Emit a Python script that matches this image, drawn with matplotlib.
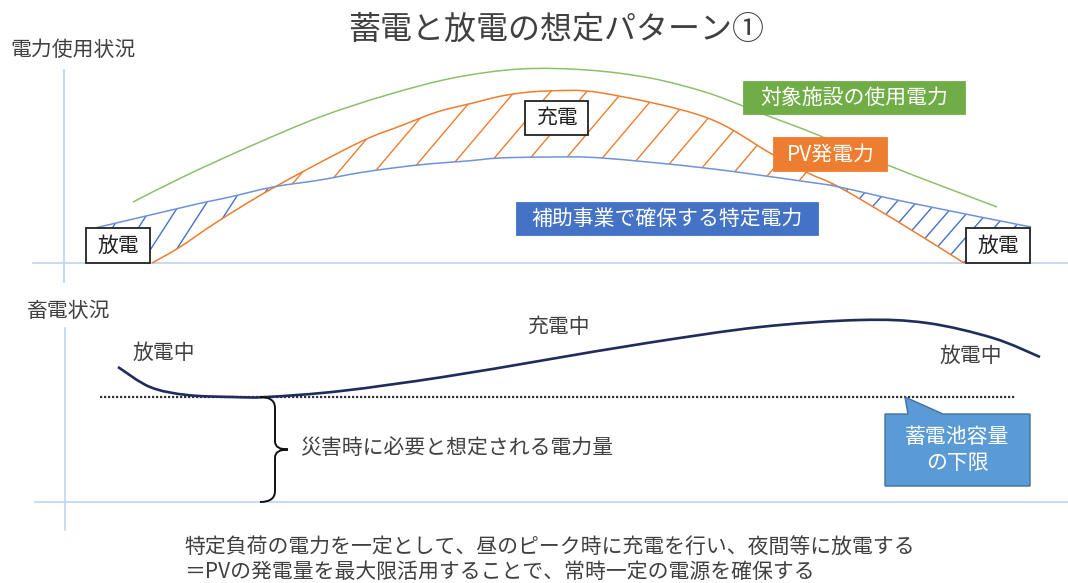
import numpy as np
import matplotlib
matplotlib.use('Agg')
import matplotlib.pyplot as plt
from matplotlib.path import Path
from matplotlib.patches import PathPatch, Polygon, Rectangle

plt.rcParams['font.family'] = ['Noto Sans CJK JP', 'DejaVu Sans']

# --- data (canvas units: x right, y down) ---
usage_x = [133, 187, 253, 320, 387, 453, 520, 587, 650, 705, 743, 763, 818, 890, 997]
usage_y = [202, 175, 145, 117, 95, 78, 69, 70, 78, 92, 106, 114, 135, 166, 207]

pv_x = [152, 180, 217, 273, 358, 403, 437, 473, 507, 547, 602, 705, 770, 808, 839, 900, 964]
pv_y = [263, 247, 222, 188, 143, 125, 112, 103, 95, 91, 93, 117, 153, 173, 187, 223, 263]

supply_x = [95, 180, 206, 230, 273, 320, 358, 393, 428, 467, 500, 553, 602, 705, 808, 839, 911, 1031]
supply_y = [228, 208, 202, 197, 187, 180, 173, 168, 164, 161, 158, 157, 158, 168, 182, 187, 203, 227]

cross_x = [273, 839]          # where PV and supply lines meet

storage_x = [118, 150, 187, 233, 267, 341, 443, 545, 647, 760, 860, 927, 993, 1040]
storage_y = [367, 387, 395, 397, 397, 391, 377, 360, 343, 327, 320, 323, 338, 357]

top_base = 263
bottom_base = 502
reserve_level = 397

TXT = '#404040'
AXC = '#BFD4EE'


def smooth(xs, ys):
    pts = np.column_stack([xs, ys]).astype(float)
    verts = [pts[0]]
    codes = [Path.MOVETO]
    n = len(pts)
    for i in range(n - 1):
        p0 = pts[i - 1] if i > 0 else pts[i]
        p1, p2 = pts[i], pts[i + 1]
        p3 = pts[i + 2] if i + 2 < n else pts[i + 1]
        verts += [p1 + (p2 - p0) / 6, p2 - (p3 - p1) / 6, p2]
        codes += [Path.CURVE4] * 3
    return Path(verts, codes)


def hatch(ax, poly, color, slope, step, lw=1.0):
    patch = Polygon(poly, closed=True, transform=ax.transData,
                    facecolor='none', edgecolor='none')
    ax.add_patch(patch)
    x0, x1 = poly[:, 0].min() - 5, poly[:, 0].max() + 5
    y0, y1 = poly[:, 1].min() - 5, poly[:, 1].max() + 5
    for b in np.arange(y0 + slope * x0, y1 + slope * x1, step * slope):
        ln, = ax.plot([x0, x1], [b - slope * x0, b - slope * x1],
                      color=color, lw=lw, zorder=2)
        ln.set_clip_path(patch)


fig = plt.figure(figsize=(10.68, 5.83), dpi=100)
ax = fig.add_axes([0, 0, 1, 1])
ax.set_xlim(0, 1068)
ax.set_ylim(583, 0)
ax.axis('off')

# axes lines
ax.plot([64, 64], [70, 282], color=AXC, lw=1.2, zorder=1)
ax.plot([33, 1068], [top_base, top_base], color=AXC, lw=1.2, zorder=1)
ax.plot([65, 65], [328, 530], color=AXC, lw=1.2, zorder=1)
ax.plot([35, 1068], [bottom_base, bottom_base], color=AXC, lw=1.2, zorder=1)

# top curves
usage_path = smooth(usage_x, usage_y)
pv_path = smooth(pv_x, pv_y)
sup_path = smooth(supply_x, supply_y)
ax.add_patch(PathPatch(usage_path, fc='none', ec='#8DC06A', lw=1.1, zorder=3))
ax.add_patch(PathPatch(pv_path, fc='none', ec='#ED7D31', lw=1.1, zorder=3))
ax.add_patch(PathPatch(sup_path, fc='none', ec='#6F93D6', lw=1.1, zorder=3))

pv_pts = pv_path.to_polygons(closed_only=False)[0]
sup_pts = sup_path.to_polygons(closed_only=False)[0]

# charging region (PV above supply)
m_pv = (pv_pts[:, 0] >= cross_x[0]) & (pv_pts[:, 0] <= cross_x[1])
m_sp = (sup_pts[:, 0] >= cross_x[0]) & (sup_pts[:, 0] <= cross_x[1])
charge_poly = np.vstack([pv_pts[m_pv], sup_pts[m_sp][::-1]])
hatch(ax, charge_poly, '#ED7D31', 1.18, 36)

# discharge regions (supply above PV)
m_sp = sup_pts[:, 0] <= cross_x[0]
m_pv = pv_pts[:, 0] <= cross_x[0]
left_poly = np.vstack([sup_pts[m_sp], pv_pts[m_pv][::-1],
                       [[supply_x[0], top_base]]])
hatch(ax, left_poly, '#4472C4', 1.55, 26)

m_sp = sup_pts[:, 0] >= cross_x[1]
m_pv = pv_pts[:, 0] >= cross_x[1]
right_poly = np.vstack([sup_pts[m_sp], [[supply_x[-1], top_base]],
                        pv_pts[m_pv][::-1]])
hatch(ax, right_poly, '#4472C4', 1.15, 20)

# boxes in top panel
def box(x0, y0, x1, y1, text, fc, ec, tc):
    ax.add_patch(Rectangle((x0, y0), x1 - x0, y1 - y0, fc=fc, ec=ec,
                           lw=1.3, zorder=5))
    ax.text((x0 + x1) / 2, (y0 + y1) / 2, text, color=tc, fontsize=15,
            ha='center', va='center', zorder=6)

box(86, 228, 150, 263, '放電', 'white', '#222222', '#222222')
box(966, 228, 1030, 263, '放電', 'white', '#222222', '#222222')
box(525, 101, 588, 135, '充電', 'white', '#222222', '#222222')
box(744, 82, 965, 114, '対象施設の使用電力', '#70AD47', '#70AD47', 'white')
box(774, 138, 887, 171, 'PV発電力', '#ED7D31', '#ED7D31', 'white')
box(517, 203, 818, 235, '補助事業で確保する特定電力', '#4472C4', '#4472C4', 'white')

# titles
ax.text(556, 30, '蓄電と放電の想定パターン①', fontsize=23, color=TXT,
        ha='center', va='center')
ax.text(10, 50, '電力使用状況', fontsize=15, color=TXT, ha='left', va='center')
ax.text(27, 311, '畜電状況', fontsize=15, color=TXT, ha='left', va='center')

# storage curve
ax.add_patch(PathPatch(smooth(storage_x, storage_y), fc='none', ec='#1F2D5C',
                       lw=1.9, zorder=4))
ax.plot([100, 1015], [reserve_level, reserve_level], color='#333333', lw=1.6,
        linestyle=(0, (1, 0.8)), zorder=3)

ax.text(164, 353, '放電中', fontsize=15, color=TXT, ha='center', va='center')
ax.text(558, 327, '充電中', fontsize=15, color=TXT, ha='center', va='center')
ax.text(971, 356, '放電中', fontsize=15, color=TXT, ha='center', va='center')

# brace
mid = (reserve_level + bottom_base) / 2
bx, lx, tx = 275, 260, 288
brace = Path([(lx, reserve_level), (bx, reserve_level), (bx, reserve_level + 11),
              (bx, mid - 8), (bx, mid), (tx, mid),
              (bx, mid), (bx, mid + 8),
              (bx, bottom_base - 11), (bx, bottom_base), (lx, bottom_base)],
             [Path.MOVETO, Path.CURVE3, Path.CURVE3,
              Path.LINETO, Path.CURVE3, Path.CURVE3,
              Path.CURVE3, Path.CURVE3,
              Path.LINETO, Path.CURVE3, Path.CURVE3])
ax.add_patch(PathPatch(brace, fc='none', ec='#111111', lw=1.4, zorder=4))
ax.text(300, mid - 2, '災害時に必要と想定される電力量', fontsize=15, color=TXT,
        ha='left', va='center')

# callout
call = Polygon([(885, 414), (908, 414), (905, reserve_level), (943, 414),
                (1030, 414), (1030, 486), (885, 486)], closed=True,
               fc='#5B9BD5', ec='#41719C', lw=1.0, zorder=5)
ax.add_patch(call)
ax.text(957, 437, '蓄電池容量', fontsize=15, color='white', ha='center',
        va='center', zorder=6)
ax.text(957, 463, 'の下限', fontsize=15, color='white', ha='center',
        va='center', zorder=6)

# footnote
ax.text(184, 547, '特定負荷の電力を一定として、昼のピーク時に充電を行い、夜間等に放電する',
        fontsize=15, color=TXT, ha='left', va='center')
ax.text(184, 572, '＝PVの発電量を最大限活用することで、常時一定の電源を確保する',
        fontsize=15, color=TXT, ha='left', va='center')

fig.savefig('out.png', dpi=100)
